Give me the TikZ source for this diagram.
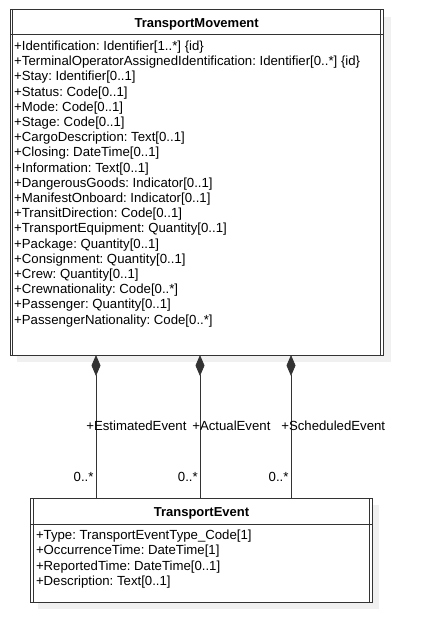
\documentclass[tikz,border=0pt]{standalone}
\usepackage{fontspec}
\setmainfont{Liberation Sans}
\usetikzlibrary{arrows.meta}
\definecolor{ln}{HTML}{333333}
\definecolor{shd}{HTML}{F0F0F0}
\frenchspacing
\begin{document}
\begin{tikzpicture}[x=1pt,y=-1pt,
  every node/.style={inner sep=0pt, outer sep=0pt, font=\fontsize{13.2}{15.2}\selectfont\frenchspacing},
  box/.style={draw=ln, line width=0.8pt, fill=white, inner sep=0pt},
  edge line/.style={draw=ln, line width=0.8pt},
  attr/.style={anchor=base west},
  mult/.style={anchor=base east},
  ttl/.style={anchor=base, font=\fontsize{13}{15}\selectfont\bfseries},
  comp/.style={draw=ln, line width=0.8pt, {Diamond[length=21pt,width=9pt]}-}
]
\useasboundingbox (0,0) rectangle (425,643);
% shadows
\fill[shd] (17,16.7) rectangle (390.7,361.7);
\fill[shd] (37.7,505.3) rectangle (379.3,609.3);
% TransportMovement box
\node[box, minimum width=373.3pt, minimum height=345.3pt] (tm) at (196.65,182.35) {};
\draw[edge line] ([xshift=2.8pt]tm.north west) -- ([xshift=2.8pt]tm.south west);
\draw[edge line] ([xshift=-3pt]tm.north east) -- ([xshift=-3pt]tm.south east);
\draw[edge line] ([yshift=-24.6pt]tm.north west) -- ([yshift=-24.6pt]tm.north east);
\node[ttl] (tmt) at (196.65,27.6) {TransportMovement};
\foreach \t [count=\i] in {
  {+Identification: Identifier[1..*] \{id\}},
  {+TerminalOperatorAssignedIdentification: Identifier[0..*] \{id\}},
  {+Stay: Identifier[0..1]},
  {+Status: Code[0..1]},
  {+Mode: Code[0..1]},
  {+Stage: Code[0..1]},
  {+CargoDescription: Text[0..1]},
  {+Closing: DateTime[0..1]},
  {+Information: Text[0..1]},
  {+DangerousGoods: Indicator[0..1]},
  {+ManifestOnboard: Indicator[0..1]},
  {+TransitDirection: Code[0..1]},
  {+TransportEquipment: Quantity[0..1]},
  {+Package: Quantity[0..1]},
  {+Consignment: Quantity[0..1]},
  {+Crew: Quantity[0..1]},
  {+Crewnationality: Code[0..*]},
  {+Passenger: Quantity[0..1]},
  {+PassengerNationality: Code[0..*]}}
  \node[attr] (tma\i) at (14.2,{50.5+15.2*(\i-1)}) {\t};
% TransportEvent box
\node[box, minimum width=341.6pt, minimum height=104pt] (te) at (201.5,550.3) {};
\draw[edge line] ([xshift=2.5pt]te.north west) -- ([xshift=2.5pt]te.south west);
\draw[edge line] ([xshift=-3pt]te.north east) -- ([xshift=-3pt]te.south east);
\draw[edge line] ([yshift=-25.7pt]te.north west) -- ([yshift=-25.7pt]te.north east);
\node[ttl] (tet) at (201.5,516.8) {TransportEvent};
\foreach \t [count=\i] in {
  {+Type: TransportEventType\_Code[1]},
  {+OccurrenceTime: DateTime[1]},
  {+ReportedTime: DateTime[0..1]},
  {+Description: Text[0..1]}}
  \node[attr] (tea\i) at (36,{539.7+15.2*(\i-1)}) {\t};
% connectors
\coordinate (c1) at (96,0);
\coordinate (c2) at (200,0);
\coordinate (c3) at (291,0);
\draw[comp] (tm.south -| c1) -- (te.north -| c1);
\draw[comp] (tm.south -| c2) -- (te.north -| c2);
\draw[comp] (tm.south -| c3) -- (te.north -| c3);
\node[attr] (r1) at (86.3,430.4) {+EstimatedEvent};
\node[attr] (r2) at (192.3,430.4) {+ActualEvent};
\node[attr] (r3) at (281.3,430.4) {+ScheduledEvent};
\node[mult] (m1) at (93.5,481) {0..*};
\node[mult] (m2) at (197.8,481) {0..*};
\node[mult] (m3) at (288.5,481) {0..*};
\end{tikzpicture}
\end{document}
